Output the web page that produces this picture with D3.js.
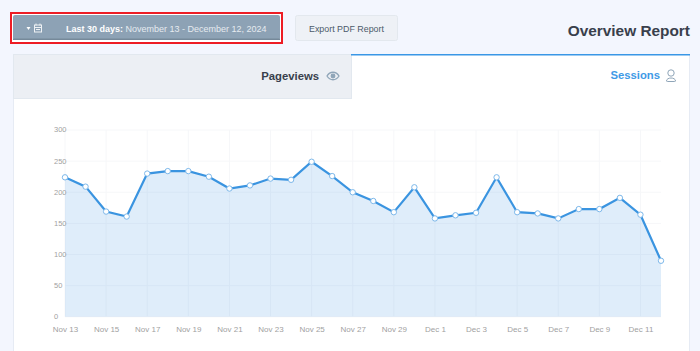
<!DOCTYPE html>
<html><head><meta charset="utf-8">
<script src="https://d3js.org/d3.v7.min.js"></script>
<style>html,body{margin:0;padding:0;background:#f3f6fe;overflow:hidden}svg{display:block}text{font-family:"Liberation Sans",Arial,sans-serif}</style>
</head><body><div id="c"></div>
<script>
const dates=["Nov 13","Nov 14","Nov 15","Nov 16","Nov 17","Nov 18","Nov 19","Nov 20","Nov 21","Nov 22","Nov 23","Nov 24","Nov 25","Nov 26","Nov 27","Nov 28","Nov 29","Nov 30","Dec 1","Dec 2","Dec 3","Dec 4","Dec 5","Dec 6","Dec 7","Dec 8","Dec 9","Dec 10","Dec 11","Dec 12"];
const pageviews=[224,209,169,161,230,234,234,225,206,211,222,220,249,226,200,186,168,208,158,163,167,224,168,166,158,173,173,191,164,90];
const yTicks=[0,50,100,150,200,250,300];
const xTickLabels=dates.filter((d,i)=>i%2===0);

const svg=d3.select("#c").append("svg").attr("width",700).attr("height",351);
const R=(x,y,w,h,f,s)=>svg.append("rect").attr("x",x).attr("y",y).attr("width",w).attr("height",h).attr("fill",f).attr("stroke",s||"none");
const T=(x,y,t,size,fill,weight,anchor)=>svg.append("text").attr("x",x).attr("y",y).text(t).attr("font-size",size).attr("fill",fill).attr("font-weight",weight||"normal").attr("text-anchor",anchor||"start");

// date button
R(11,13,271,30,"#fff","#ed1c24").attr("stroke-width",2);
R(13,15,267,25,"#8da2b5").attr("rx",2);
R(13,38.5,267,1.5,"#76899a");
svg.append("path").attr("d","M26.5 27l4 0-2 3z").attr("fill","#fff");
const cal=svg.append("g").attr("fill","none").attr("stroke","#fff").attr("stroke-width",1).attr("opacity",.85);
cal.append("rect").attr("x",34.5).attr("y",25).attr("width",7).attr("height",7);
cal.append("path").attr("d","M34.5 27.5h7M36 23.5v2M40 23.5v2M36 29.5h4");
const dl=T(66,31.5,"",9,"#e6ebf0");
dl.append("tspan").attr("font-weight","bold").attr("fill","#fff").text("Last 30 days: ");
dl.append("tspan").text("November 13 - December 12, 2024");

// export button
R(295.5,15.5,102,25,"#eef1f6","#e3e8ee").attr("rx",2);
T(346.5,31.5,"Export PDF Report",8.9,"#4c5a69","normal","middle");
T(690,36,"Overview Report",15.4,"#393f4c","bold","end");

// panel and tabs
R(13.5,54.5,676,297,"#fff","#e6ebf4");
R(13.5,54.5,338,44,"#eceff4","#e2e8ef");
R(351,54,339,1.5,"#3a97e6");
T(319,80,"Pageviews",11.3,"#393f4c","bold","end");
const eye=svg.append("g").attr("fill","none").attr("stroke","#8fa5b8").attr("stroke-width",1.3);
eye.append("path").attr("d","M327 76c3-5 9-5 12 0c-3 5-9 5-12 0z");
eye.append("circle").attr("cx",333).attr("cy",76).attr("r",1.8).attr("fill","#8fa5b8");
T(660,79,"Sessions",11.3,"#3f9ae6","bold","end");
const usr=svg.append("g").attr("fill","none").attr("stroke","#8fa5b8").attr("stroke-width",1);
usr.append("circle").attr("cx",671).attr("cy",73).attr("r",3.2);
usr.append("path").attr("d","M666.5 81c0-4 9-4 9 0c0 .5-.5 .5-1 .5h-7c-.5 0-1 0-1-.5z");

// chart
const x=d3.scalePoint().domain(dates).range([65,661]);
const y=d3.scaleLinear().domain([0,300]).range([316.8,130]);

const grid=svg.append("g").attr("stroke","#f6f7f9").attr("stroke-width",1);
grid.selectAll("line.h").data(yTicks).join("line").attr("x1",65).attr("x2",661).attr("y1",d=>y(d)).attr("y2",d=>y(d));
grid.selectAll("line.v").data(xTickLabels).join("line").attr("x1",d=>x(d)).attr("x2",d=>x(d)).attr("y1",130).attr("y2",316.8);

const series=dates.map((d,i)=>({d,v:pageviews[i]}));
svg.append("path").datum(series).attr("fill","#3f97e3").attr("fill-opacity",.17)
  .attr("d",d3.area().x(d=>x(d.d)).y0(y(0)).y1(d=>y(d.v)));
svg.append("path").datum(series).attr("fill","none").attr("stroke","#3a94e0").attr("stroke-width",2.2)
  .attr("d",d3.line().x(d=>x(d.d)).y(d=>y(d.v)));
svg.selectAll("circle.pt").data(series).join("circle").attr("class","pt")
  .attr("cx",d=>x(d.d)).attr("cy",d=>y(d.v)).attr("r",2.7).attr("fill","#fff").attr("stroke","#7db8ea").attr("stroke-width",1);

const axY=svg.append("g").attr("transform","translate(65,0)").call(d3.axisLeft(y).tickValues(yTicks).tickSize(0).tickPadding(0));
axY.select(".domain").remove();
axY.selectAll("text").attr("font-size",7.5).attr("fill","#9f9f9f").attr("text-anchor","start").attr("x",-11).attr("dy",".25em").style("font-family",'"Liberation Sans",Arial,sans-serif');
const axX=svg.append("g").attr("transform","translate(0,316.8)").call(d3.axisBottom(x).tickValues(xTickLabels).tickSize(0).tickPadding(10));
axX.select(".domain").remove();
axX.selectAll("text").attr("font-size",8).attr("fill","#9f9f9f").style("font-family",'"Liberation Sans",Arial,sans-serif');
</script></body></html>
